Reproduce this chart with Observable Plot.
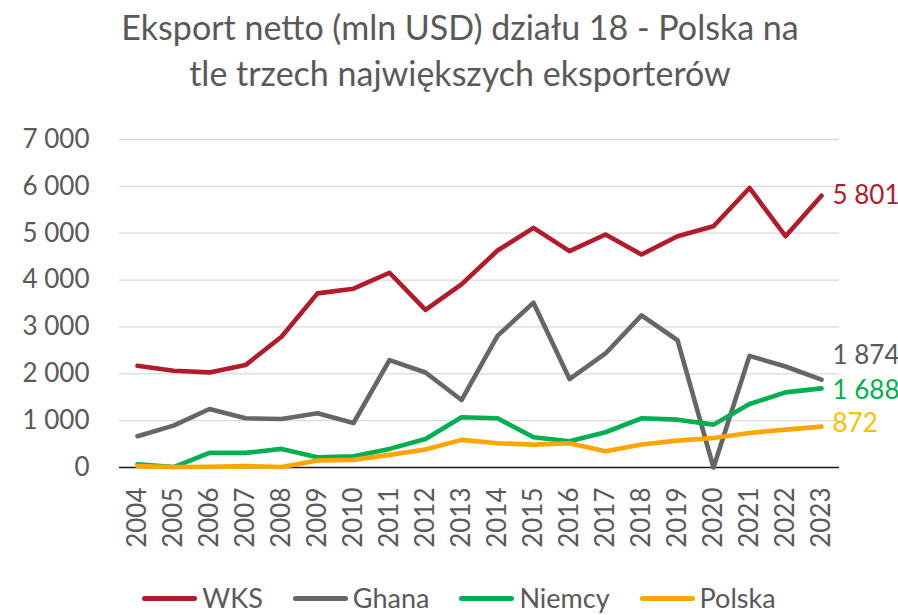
<!DOCTYPE html>
<html>
<head>
<meta charset="utf-8">
<script src="https://cdn.jsdelivr.net/npm/d3@7"></script>
<script src="https://cdn.jsdelivr.net/npm/@observablehq/plot@0.6"></script>
<style>
  body { margin: 0; background: #fff; font-family: Lato, "Open Sans", sans-serif; }
  #wrap { position: relative; width: 898px; height: 615px; overflow: hidden; }
  #title { position: absolute; left: 0; top: 4px; width: 898px; padding-left: 22px; box-sizing: border-box; text-align: center;
           font-size: 34px; line-height: 46px; color: #595959; }
  #chart { position: absolute; left: 0; top: 110px; }
  #legend { position: absolute; left: 0; top: 584px; width: 898px; padding-left: 20px; box-sizing: border-box; display: flex;
            justify-content: center; align-items: center; font-size: 27px; line-height: 28px; color: #595959; height: 28px; }
  .item { display: flex; align-items: center; margin: 0 15px; }
  .sw { width: 55px; height: 5px; border-radius: 3px; margin-right: 5px; }
</style>
</head>
<body>
<div id="wrap">
  <div id="title">Eksport netto (mln USD) działu 18 - Polska na<br>tle trzech największych eksporterów</div>
  <div id="chart"></div>
  <div id="legend"></div>
</div>
<script>
const years = [2004,2005,2006,2007,2008,2009,2010,2011,2012,2013,2014,2015,2016,2017,2018,2019,2020,2021,2022,2023];
const seriesNames = ["WKS", "Ghana", "Niemcy", "Polska"];
const wks    = [2170,2064,2030,2185,2790,3716,3816,4156,3362,3908,4630,5113,4617,4972,4546,4936,5149,5965,4936,5801];
const ghana  = [667,894,1248,1050,1035,1156,950,2291,2028,1440,2808,3518,1887,2433,3248,2716,0,2383,2156,1874];
const niemcy = [70,10,312,312,397,220,241,397,610,1071,1050,645,560,752,1050,1021,915,1355,1603,1688];
const polska = [30,10,15,30,10,149,163,270,383,589,518,489,518,348,489,574,631,738,809,872];
const yTicks = [0,1000,2000,3000,4000,5000,6000,7000];

const lineColors  = {WKS: "#B31B2C", Ghana: "#63676A", Niemcy: "#00B050", Polska: "#FFA500"};
const labelColors = {WKS: "#B31B2C", Ghana: "#595959", Niemcy: "#00B050", Polska: "#FFC000"};
const labelDy     = {WKS: 0, Ghana: -24, Niemcy: 2, Polska: -3};

const valuesBy = {WKS: wks, Ghana: ghana, Niemcy: niemcy, Polska: polska};
const rows = [];
for (const s of seriesNames) years.forEach((y, i) => rows.push({series: s, year: y, value: valuesBy[s][i]}));
const fmt = v => d3.format(",")(v).replace(/,/g, " ");

const marks = [
  Plot.gridY(yTicks.filter(d => d > 0), {stroke: "#d9d9d9", strokeOpacity: 1, strokeWidth: 1.3}),
  Plot.ruleY([0], {stroke: "#1a1a1a", strokeWidth: 1.5}),
  Plot.axisY({ticks: yTicks, tickSize: 0, tickPadding: 30, tickFormat: fmt, fontSize: 26, fill: "#595959"}),
  Plot.axisX({tickRotate: -90, tickSize: 0, tickPadding: 20, tickFormat: d => String(d), fontSize: 26, fill: "#595959"})
];
for (const s of seriesNames) {
  const data = rows.filter(r => r.series === s);
  marks.push(Plot.line(data, {x: "year", y: "value", stroke: lineColors[s], strokeWidth: 4.6,
    strokeLinecap: "round", strokeLinejoin: "round"}));
  const last = data[data.length - 1];
  marks.push(Plot.text([last], {x: "year", y: "value", text: d => fmt(d.value), dx: 11, dy: labelDy[s],
    textAnchor: "start", fill: labelColors[s], fontSize: 26}));
}

const chart = Plot.plot({
  width: 898, height: 465,
  marginTop: 29, marginBottom: 108, marginLeft: 119, marginRight: 59,
  style: {fontFamily: "Lato, 'Open Sans', sans-serif", overflow: "visible", background: "transparent"},
  x: {type: "point", domain: years, padding: 0.5, label: null},
  y: {domain: [0, 7000], label: null},
  marks
});
document.getElementById("chart").appendChild(chart);

const legend = document.getElementById("legend");
for (const s of seriesNames) {
  const it = document.createElement("div");
  it.className = "item";
  it.innerHTML = `<div class="sw" style="background:${lineColors[s]}"></div><span>${s}</span>`;
  legend.appendChild(it);
}
</script>
</body>
</html>
